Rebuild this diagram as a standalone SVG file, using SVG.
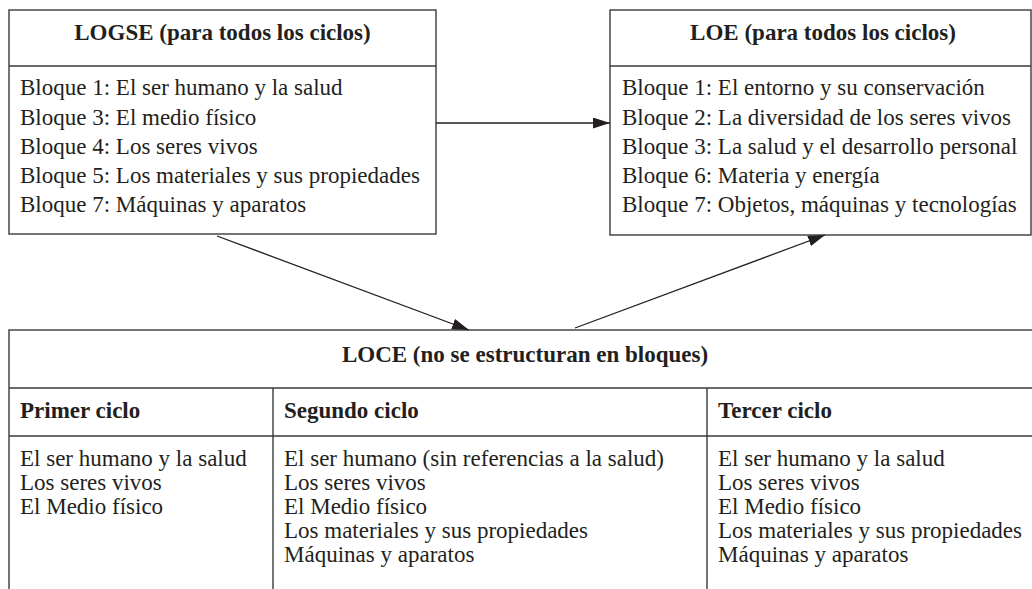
<svg xmlns="http://www.w3.org/2000/svg" width="1032" height="589" viewBox="0 0 1032 589">
<style>
.box{fill:#fff;stroke:#3a3a3a;stroke-width:1.4}
.ln{stroke:#3a3a3a;stroke-width:1.4;fill:none}
.t{font-family:"Liberation Serif","Times New Roman",serif;font-size:23px;fill:#231f20}
.b{font-weight:bold}
.c{text-anchor:middle}
.arr{stroke:#231f20;stroke-width:1.3;fill:none;marker-end:url(#ah)}
</style>
<defs>
<marker id="ah" viewBox="0 0 17 11" refX="17" refY="5.5" markerWidth="17" markerHeight="11" markerUnits="userSpaceOnUse" orient="auto">
<path d="M0,0 L17,5.5 L0,11 Z" fill="#231f20"/>
</marker>
</defs>
<rect width="1032" height="589" fill="#fff"/>
<g id="logse">
<rect class="box" x="9" y="10" width="427" height="224"/>
<line class="ln" x1="9" y1="66" x2="436" y2="66"/>
<text class="t b c" x="222.5" y="40">LOGSE (para todos los ciclos)</text>
<text class="t" x="20" y="95">Bloque 1: El ser humano y la salud</text>
<text class="t" x="20" y="124.5">Bloque 3: El medio físico</text>
<text class="t" x="20" y="153.5">Bloque 4: Los seres vivos</text>
<text class="t" x="20" y="182.5">Bloque 5: Los materiales y sus propiedades</text>
<text class="t" x="20" y="211.5">Bloque 7: Máquinas y aparatos</text>
</g>
<g id="loe">
<rect class="box" x="610" y="10" width="421" height="225"/>
<line class="ln" x1="610" y1="66" x2="1031" y2="66"/>
<text class="t b c" x="823" y="40">LOE (para todos los ciclos)</text>
<text class="t" x="622" y="95">Bloque 1: El entorno y su conservación</text>
<text class="t" x="622" y="124.5">Bloque 2: La diversidad de los seres vivos</text>
<text class="t" x="622" y="153.5">Bloque 3: La salud y el desarrollo personal</text>
<text class="t" x="622" y="182.5">Bloque 6: Materia y energía</text>
<text class="t" x="622" y="211.5">Bloque 7: Objetos, máquinas y tecnologías</text>
</g>
<g id="loce">
<rect class="box" x="9" y="330" width="1040" height="280"/>
<line class="ln" x1="9" y1="388" x2="1049" y2="388"/>
<line class="ln" x1="9" y1="436" x2="1049" y2="436"/>
<line class="ln" x1="273" y1="388" x2="273" y2="600"/>
<line class="ln" x1="707" y1="388" x2="707" y2="600"/>
<text class="t b c" x="525" y="362">LOCE (no se estructuran en bloques)</text>
<text class="t b" x="20" y="418">Primer ciclo</text>
<text class="t b" x="284" y="418">Segundo ciclo</text>
<text class="t b" x="718" y="418">Tercer ciclo</text>
<text class="t" x="20" y="466">El ser humano y la salud</text>
<text class="t" x="20" y="490">Los seres vivos</text>
<text class="t" x="20" y="514">El Medio físico</text>
<text class="t" x="284" y="466">El ser humano (sin referencias a la salud)</text>
<text class="t" x="284" y="490">Los seres vivos</text>
<text class="t" x="284" y="514">El Medio físico</text>
<text class="t" x="284" y="538">Los materiales y sus propiedades</text>
<text class="t" x="284" y="562">Máquinas y aparatos</text>
<text class="t" x="718" y="466">El ser humano y la salud</text>
<text class="t" x="718" y="490">Los seres vivos</text>
<text class="t" x="718" y="514">El Medio físico</text>
<text class="t" x="718" y="538">Los materiales y sus propiedades</text>
<text class="t" x="718" y="562">Máquinas y aparatos</text>
</g>
<g id="connectors">
<line class="arr" x1="436" y1="123" x2="610" y2="123"/>
<line class="arr" x1="217" y1="236" x2="469" y2="330"/>
<line class="arr" x1="575" y1="328" x2="825" y2="235"/>
</g>
</svg>
